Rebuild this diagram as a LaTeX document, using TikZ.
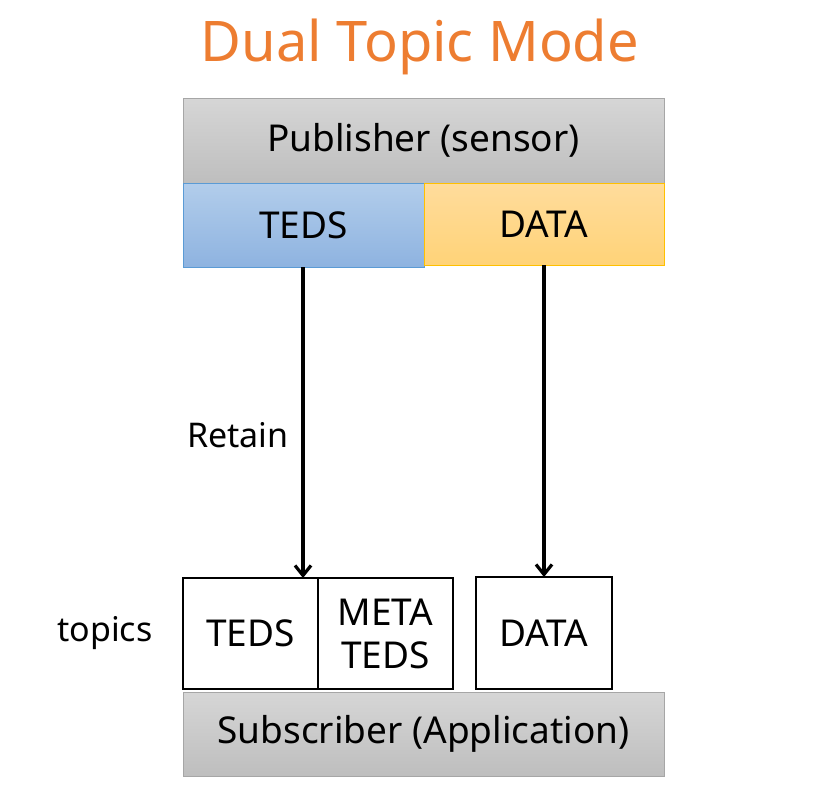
\documentclass[tikz,border=0pt]{standalone}
\usepackage{fontspec}
\setmainfont{Noto Sans}
\usetikzlibrary{arrows.meta}
\definecolor{titleorange}{HTML}{ED7D31}
\definecolor{graytop}{HTML}{D6D6D6}
\definecolor{graybot}{HTML}{BEBEBE}
\definecolor{grayedge}{HTML}{A6A6A6}
\definecolor{bluetop}{HTML}{B2CDEB}
\definecolor{bluebot}{HTML}{8EB3E0}
\definecolor{blueedge}{HTML}{5B9BD5}
\definecolor{orangetop}{HTML}{FFDC9C}
\definecolor{orangebot}{HTML}{FFD378}
\definecolor{orangeedge}{HTML}{FFC000}
\tikzset{
  box/.style={rectangle, inner sep=0pt, outer sep=0pt, anchor=north west, font=\fontsize{37}{44}\selectfont},
  graybox/.style={box, top color=graytop, bottom color=graybot, draw=grayedge, line width=1pt},
  bluebox/.style={box, top color=bluetop, bottom color=bluebot, draw=blueedge, line width=1pt},
  orangebox/.style={box, top color=orangetop, bottom color=orangebot, draw=orangeedge, line width=1pt},
  topicbox/.style={box, draw=black, line width=1.6pt, fill=white, align=center},
  lbl/.style={inner sep=0pt, font=\fontsize{34}{40}\selectfont},
  flowarrow/.style={draw=black, line width=3.6pt, -{Straight Barb[length=10pt,width=16pt,line width=3.2pt]}}
}
\begin{document}
\begin{tikzpicture}[x=1pt,y=-1pt]
\useasboundingbox (0,0) rectangle (819,801);
\node[inner sep=0pt, text=titleorange, font=\fontsize{56}{60}\selectfont] (title) at (420,47) {Dual Topic Mode};
\node[graybox, minimum width=481pt, minimum height=85pt] (pub) at (183,98) {Publisher (sensor)};
\node[bluebox, minimum width=241pt, minimum height=84pt] (pteds) at (183,183) {TEDS};
\node[orangebox, minimum width=240pt, minimum height=82pt] (pdata) at (424,183) {DATA};
\node[topicbox, minimum width=135pt, minimum height=111pt] (tteds) at (183,578) {TEDS};
\node[topicbox, minimum width=135pt, minimum height=111pt, font=\fontsize{37}{43}\selectfont] (tmeta) at (318,578) {META\\TEDS};
\node[topicbox, minimum width=136pt, minimum height=112pt] (tdata) at (476,577) {DATA};
\node[graybox, minimum width=481pt, minimum height=84pt] (sub) at (183,692) {Subscriber (Application)};
\node[lbl] (topics) at (105,633) {topics};
\node[lbl] (retain) at (238,435) {Retain};
\coordinate (a1s) at (303,267);
\coordinate (a1e) at (303,578);
\coordinate (a2s) at (544,265);
\coordinate (a2e) at (544,577);
\draw[flowarrow] (a1s) -- (a1e);
\draw[flowarrow] (a2s) -- (a2e);
\end{tikzpicture}
\end{document}
